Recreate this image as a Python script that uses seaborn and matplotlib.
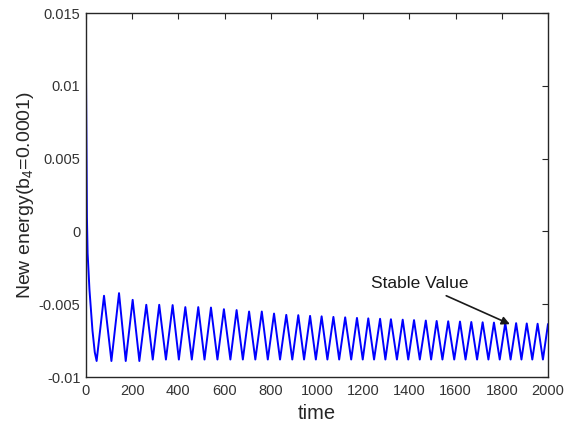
import matplotlib
matplotlib.use('Agg')
import matplotlib.pyplot as plt
import seaborn as sns
import numpy as np
import pandas as pd

# 初始下降段
start_t = [0, 2, 4, 7, 15, 28, 38]
start_e = [0.0110, 0.0060, 0.0010, -0.0015, -0.0040, -0.0068, -0.0083]

# 波谷
trough_t = [46, 110, 172, 231, 289, 346, 402, 458, 513, 569,
            625, 679, 733, 787, 840, 893, 944, 995, 1045, 1096,
            1148, 1198, 1247, 1296, 1346, 1395, 1445, 1494, 1543, 1594,
            1643, 1693, 1742, 1791, 1838, 1885, 1932, 1978]
trough_e = [-0.0089, -0.0089, -0.0089, -0.0089, -0.0088, -0.0088, -0.0088, -0.0088, -0.0088, -0.0088,
            -0.0088, -0.0088, -0.0088, -0.0088, -0.0088, -0.0088, -0.0088, -0.0088, -0.0088, -0.0088,
            -0.0088, -0.0088, -0.0088, -0.0088, -0.0088, -0.0088, -0.0088, -0.0088, -0.0088, -0.0088,
            -0.0088, -0.0088, -0.0088, -0.0088, -0.0088, -0.0088, -0.0088, -0.0088]

# 波峰
peak_t = [78, 143, 202, 261, 317, 375, 430, 486, 541, 597,
          652, 706, 761, 814, 867, 919, 970, 1020, 1071, 1122,
          1173, 1222, 1273, 1320, 1371, 1420, 1471, 1518, 1568, 1619,
          1668, 1717, 1766, 1815, 1862, 1908, 1955, 2000]
peak_e = [-0.00442, -0.00424, -0.00470, -0.00504, -0.00504, -0.00506, -0.00520, -0.00520, -0.00523, -0.00534,
          -0.00540, -0.00550, -0.00550, -0.00564, -0.00573, -0.00575, -0.00580, -0.00583, -0.00587, -0.00590,
          -0.00594, -0.00597, -0.00600, -0.00603, -0.00606, -0.00609, -0.00612, -0.00615, -0.00617, -0.00619,
          -0.00622, -0.00624, -0.00626, -0.00628, -0.00630, -0.00632, -0.00634, -0.00636]

x_ticks = [0, 200, 400, 600, 800, 1000, 1200, 1400, 1600, 1800, 2000]
y_ticks = [-0.01, -0.005, 0, 0.005, 0.01, 0.015]
y_labels = ['-0.01', '-0.005', '0', '0.005', '0.01', '0.015']

# 波谷/波峰交替拼接
t = list(start_t)
e = list(start_e)
for tt, te, pt, pe in zip(trough_t, trough_e, peak_t, peak_e):
    t += [tt, pt]
    e += [te, pe]
data = pd.DataFrame({'time': t, 'energy': e})

sns.set_theme(style='white')
plt.rcParams['font.family'] = ['Liberation Sans', 'DejaVu Sans']
plt.rcParams['mathtext.default'] = 'regular'
plt.rcParams['axes.unicode_minus'] = False

fig = plt.figure(figsize=(5.68, 4.25), dpi=100)
ax = fig.add_axes([0.1514, 0.1129, 0.8134, 0.8565])
sns.lineplot(data=data, x='time', y='energy', color='#0000ff', linewidth=1.4,
             sort=False, estimator=None, ax=ax)
ax.lines[0].set_solid_joinstyle('round')

ax.set_xlim(0, 2000)
ax.set_ylim(-0.01, 0.015)
ax.set_xticks(x_ticks)
ax.set_xticklabels([str(v) for v in x_ticks])
ax.set_yticks(y_ticks)
ax.set_yticklabels(y_labels)
ax.tick_params(direction='in', length=4, width=0.8, top=True, right=True,
               labelsize=10.5, labelcolor='#333333', color='#262626')
ax.tick_params(axis='x', pad=5)
ax.tick_params(axis='y', pad=4)
for s in ax.spines.values():
    s.set_color('#262626')
    s.set_linewidth(1.0)

ax.set_xlabel('time', fontsize=14.5, color='#262626', labelpad=4)
ax.set_ylabel('New energy(b$_4$=0.0001)', fontsize=14, color='#262626', labelpad=2)

ax.annotate('Stable Value', xy=(1835, -0.00637), xytext=(1655, -0.0036),
            ha='right', va='center', fontsize=12.5, color='#1a1a1a',
            arrowprops=dict(arrowstyle='-|>', color='#1a1a1a', lw=1.2,
                            mutation_scale=12, shrinkA=2, shrinkB=0))

fig.savefig('out.png', dpi=100)
plt.close()
